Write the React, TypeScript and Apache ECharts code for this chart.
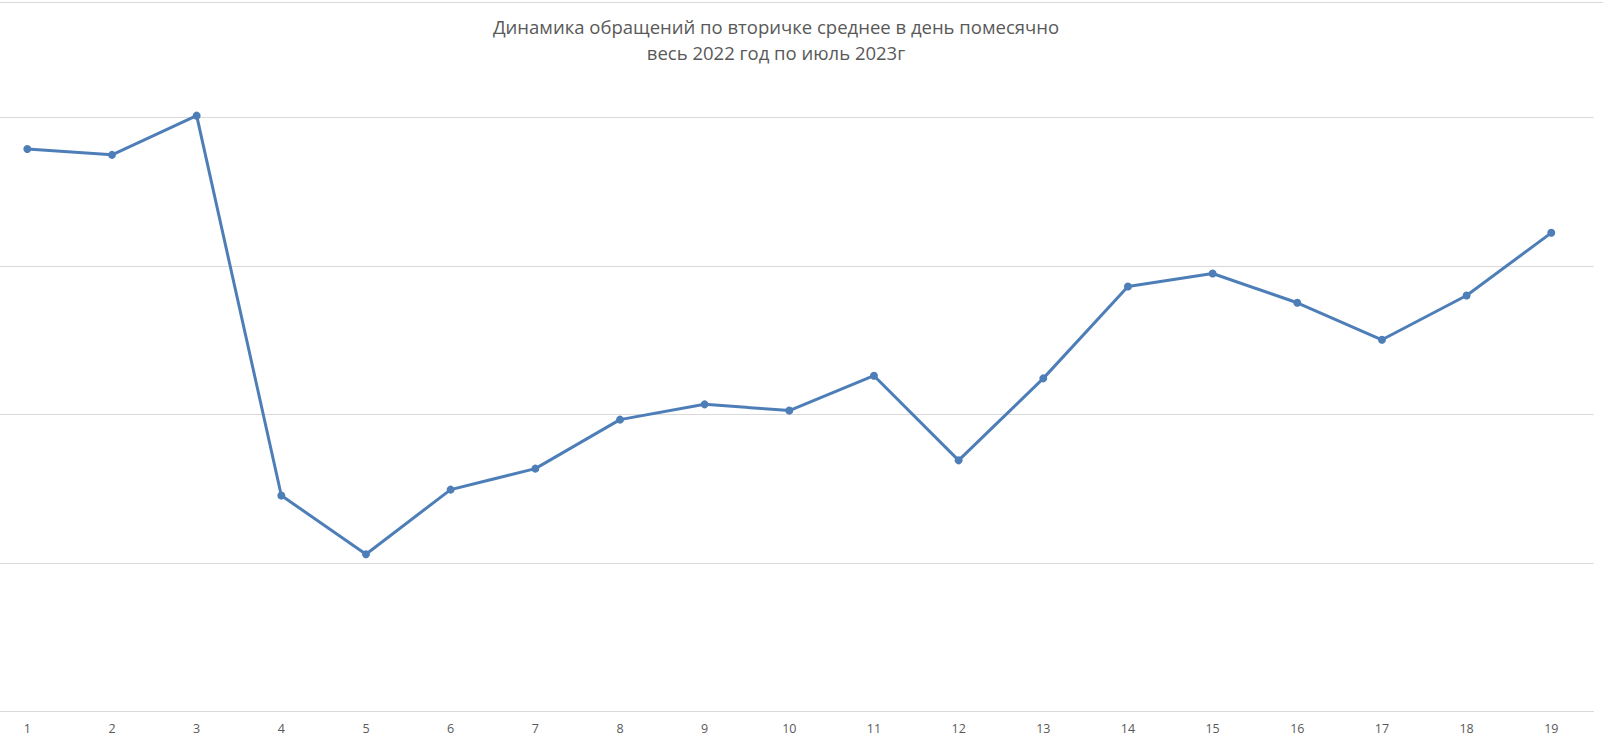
import React, { useEffect, useRef } from "react";
import * as echarts from "echarts";

const titleLines = [
  "Динамика обращений по вторичке среднее в день помесячно",
  "весь 2022 год по июль 2023г",
];
const categories = ["1","2","3","4","5","6","7","8","9","10","11","12","13","14","15","16","17","18","19"];
const values = [37.87, 37.47, 40.11, 14.53, 10.58, 14.93, 16.34, 19.64, 20.67, 20.25, 22.6, 16.9, 22.42, 28.61, 29.48, 27.51, 25.02, 28.0, 32.22];

const SHIFT = 15;

export default function App() {
  const ref = useRef<HTMLDivElement>(null);
  useEffect(() => {
    if (!ref.current) return;
    const chart = echarts.init(ref.current, undefined, { renderer: "svg" });
    chart.setOption({
      animation: false,
      backgroundColor: "#ffffff",
      title: {
        text: titleLines.join("\n"),
        left: 771 + SHIFT,
        top: 8,
        textAlign: "center",
        textStyle: {
          fontFamily: "Open Sans",
          fontSize: 18.5,
          fontWeight: "normal",
          color: "#595959",
          lineHeight: 26,
        },
      },
      graphic: [
        {
          type: "line",
          shape: { x1: 0, y1: 2.5, x2: 1603 + SHIFT, y2: 2.5 },
          style: { stroke: "#d9d9d9", lineWidth: 1 },
        },
      ],
      grid: { left: 0, right: 9.4, top: 117.3, bottom: 39.7 },
      xAxis: {
        type: "category",
        data: categories,
        boundaryGap: true,
        axisTick: { show: false },
        axisLine: { lineStyle: { color: "#d9d9d9", width: 1 } },
        axisLabel: { color: "#595959", fontSize: 12.5, fontFamily: "Open Sans", margin: 11 },
      },
      yAxis: {
        type: "value",
        min: 0,
        max: 40,
        interval: 10,
        axisLabel: { show: false },
        axisLine: { show: false },
        axisTick: { show: false },
        splitLine: { lineStyle: { color: "#d9d9d9", width: 1 } },
      },
      series: [
        {
          type: "line",
          data: values,
          clip: false,
          symbol: "circle",
          symbolSize: 8,
          lineStyle: { color: "#4e7eb8", width: 3 },
          itemStyle: { color: "#4e7eb8" },
        },
      ],
    });
    return () => chart.dispose();
  }, []);
  return (
    <div
      ref={ref}
      style={{ position: "fixed", left: -SHIFT, top: 0, width: 1603 + SHIFT, height: 751 }}
    />
  );
}
